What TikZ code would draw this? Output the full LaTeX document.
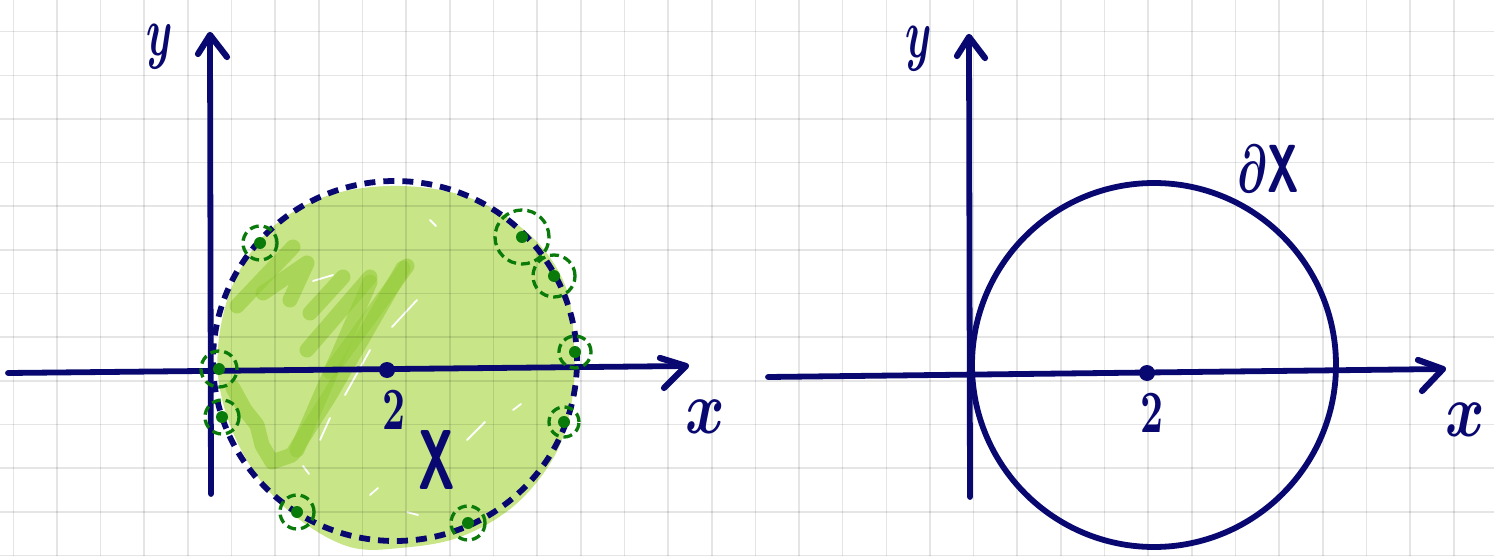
\documentclass[tikz,border=0pt]{standalone}
\definecolor{ink}{RGB}{8,8,112}
\definecolor{fillg}{RGB}{200,230,135}
\definecolor{scrib}{RGB}{150,205,60}
\definecolor{dotg}{RGB}{10,122,10}
\begin{document}
\begin{tikzpicture}[x=1pt,y=-1pt,
  axis/.style={ink,line width=5.8pt,line cap=round,line join=round},
  tipline/.style={ink,line width=6.2pt,line cap=round,line join=round},
  lbl/.style={ink,inner sep=0pt,font=\boldmath},
  ring/.style={dotg,line width=3.3pt,dash pattern=on 9pt off 5pt},
  gdot/.style={circle,fill=dotg,inner sep=0pt,minimum size=12pt},
  cdot/.style={circle,fill=ink,inner sep=0pt,minimum size=16pt},
  scribble/.style={scrib,line width=15pt,line cap=round,line join=round,opacity=0.62},
  streak/.style={white,line width=1.8pt,line cap=round},
  gridline/.style={black,opacity=0.1,line width=1.6pt}]

\useasboundingbox (0,0) rectangle (1494,556);
\fill[white] (0,0) rectangle (1494,556);

% ---------- green region X ----------
\fill[fillg] plot[smooth cycle, tension=0.6] coordinates {
  (400,186) (470,198) (530,235) (565,285) (574,345) (572,400) (555,455)
  (515,505) (460,537) (400,548) (350,547) (300,520) (260,480) (232,430)
  (218,375) (222,320) (240,270) (275,225) (330,195)};

% darker scribbles
\draw[scribble] (237,306) -- (293,247);
\draw[scribble] (263,293) -- (307,263) -- (290,300);
\draw[scribble] (310,313) -- (343,277);
\draw[scribble] (307,350) -- (370,277);
\draw[scribble] (330,372) -- (407,266);
\draw[scribble] (297,450) -- (370,282);
\draw[scribble] (233,388) -- (245,410) -- (257,425) -- (262,445) -- (272,462) -- (292,455) -- (330,395) -- (403,268);

% white streaks
\draw[streak] (313,281) -- (333,275);
\draw[streak] (430,220) -- (436,226);
\draw[streak] (392,327) -- (417,300);
\draw[streak] (370,350) -- (345,395);
\draw[streak] (467,440) -- (485,422);
\draw[streak] (513,410) -- (521,404);
\draw[streak] (303,466) -- (309,474);
\draw[streak] (330,418) -- (320,440);
\draw[streak] (407,512) -- (418,515);
\draw[streak] (370,495) -- (378,488);

% ---------- grid ----------
\foreach \i in {0,...,33} \draw[gridline] ({13.3+43.65*\i},0) -- ({13.3+43.65*\i},556);
\foreach \j in {0,...,12} \draw[gridline] (0,{31.7+43.65*\j}) -- (1494,{31.7+43.65*\j});

% ---------- left picture ----------
\coordinate (lyb) at (211,494);
\coordinate (lyt) at (210,35);
\coordinate (lya) at (198,54);
\coordinate (lyc) at (227,57);
\draw[axis] (lyb) -- (lyt);
\draw[tipline] (lya) -- (lyt) -- (lyc);

\coordinate (lxl) at (8,373);
\coordinate (lxr) at (686,366);
\coordinate (lxa) at (660,358);
\coordinate (lxc) at (664,388);
\draw[axis] (lxl) -- (lxr);
\draw[tipline] (lxa) -- (lxr) -- (lxc);

\draw[ink,line width=5.8pt,dash pattern=on 11pt off 8pt] (395,361) ellipse [x radius=182pt, y radius=180pt];

\node[cdot] (lc) at (387,370) {};
\node[lbl,xscale=4,yscale=6] (l2) at (394,410) {$\mathbf{2}$};
\node[lbl,xscale=4.2,yscale=7] (lylab) at (160,47) {$y$};
\node[lbl,xscale=6,yscale=7.5] (lxlab) at (705,417) {$x$};
\node[lbl,xscale=5,yscale=8.5] (Xlab) at (437,460) {\textbf{\textsf{X}}};

% boundary points with dashed neighbourhoods
\foreach \n/\px/\py/\r in {p1/260/243/17, p2/522/237/27, p3/554/276/21, p4/575/352/16,
   p5/219/369/18, p6/222/417/17, p7/564/422/15, p8/297/512/17, p9/468/523/17} {
  \node[gdot] (\n) at (\px,\py) {};
  \draw[ring] (\n) circle [radius=\r pt];
}

% ---------- right picture ----------
\coordinate (ryb) at (970,497);
\coordinate (ryt) at (969,37);
\coordinate (rya) at (957,56);
\coordinate (ryc) at (985,58);
\draw[axis] (ryb) -- (ryt);
\draw[tipline] (rya) -- (ryt) -- (ryc);

\coordinate (rxl) at (768,377);
\coordinate (rxr) at (1443,369);
\coordinate (rxa) at (1418,360);
\coordinate (rxc) at (1422,391);
\draw[axis] (rxl) -- (rxr);
\draw[tipline] (rxa) -- (rxr) -- (rxc);

\draw[ink,line width=5.8pt] (1154,365) circle [radius=182pt];

\node[cdot] (rc) at (1147,373) {};
\node[lbl,xscale=4,yscale=6] (r2) at (1152,413) {$\mathbf{2}$};
\node[lbl,xscale=4.2,yscale=7] (rylab) at (919,49) {$y$};
\node[lbl,xscale=6,yscale=7.5] (rxlab) at (1465,420) {$x$};
\node[lbl,xscale=4.3,yscale=6.8] (dX) at (1268,169) {$\partial$\textbf{\textsf{X}}};
\end{tikzpicture}
\end{document}
